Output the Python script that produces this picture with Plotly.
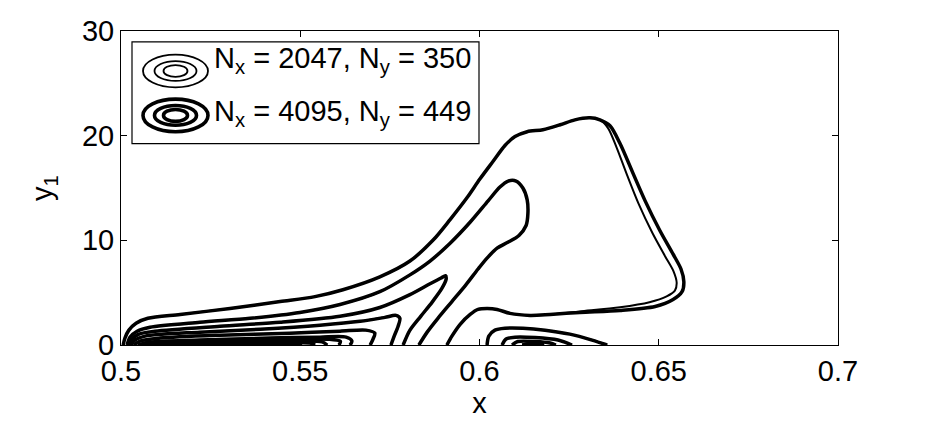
import plotly.graph_objects as go

# ---------------- data ----------------
x_ticks = [0.5, 0.55, 0.6, 0.65, 0.7]
x_tick_labels = ["0.5", "0.55", "0.6", "0.65", "0.7"]
y_ticks = [0, 10, 20, 30]
y_tick_labels = ["0", "10", "20", "30"]

series_names = ["N<sub>x</sub> = 2047, N<sub>y</sub> = 350",
                "N<sub>x</sub> = 4095, N<sub>y</sub> = 449"]

# outermost contour (big loop), fine grid (4095)
outer_fine_x = [0.5006, 0.5011, 0.5022, 0.5042, 0.5075, 0.5165, 0.5304, 0.5444, 0.5541, 0.5619,
                0.5722, 0.5806, 0.5870, 0.5918, 0.5965, 0.6001, 0.6038, 0.6071, 0.6099, 0.6133,
                0.6177, 0.6225, 0.6266, 0.6308, 0.6336, 0.6364, 0.6392, 0.6428, 0.6462, 0.6503,
                0.6540, 0.6562, 0.6570, 0.6565, 0.6540, 0.6490, 0.6392, 0.6280, 0.6197, 0.6141,
                0.6085, 0.6049, 0.6021, 0.5996, 0.5974, 0.5946, 0.5923, 0.5909]
outer_fine_y = [0.0, 0.66, 1.42, 2.08, 2.55, 2.92, 3.49, 4.15, 4.62, 5.28,
                6.51, 8.02, 10.0, 11.98, 14.06, 15.85, 17.55, 19.06, 19.91, 20.38,
                20.57, 21.04, 21.51, 21.70, 21.51, 20.94, 19.25, 16.42, 13.77, 10.94,
                8.68, 7.26, 6.04, 5.09, 4.34, 3.68, 3.30, 3.11, 2.92, 2.83,
                3.02, 3.40, 3.49, 3.40, 2.92, 1.98, 0.85, 0.0]

# outermost contour, coarse grid (2047) - differs on the right-hand side
outer_coarse_x = [0.5006, 0.5011, 0.5022, 0.5042, 0.5075, 0.5165, 0.5304, 0.5444, 0.5541, 0.5619,
                  0.5722, 0.5806, 0.5870, 0.5918, 0.5965, 0.6001, 0.6038, 0.6071, 0.6099, 0.6133,
                  0.6177, 0.6225, 0.6266, 0.6308, 0.6336, 0.6359, 0.6382, 0.6412, 0.6443, 0.6482,
                  0.6518, 0.6541, 0.6550, 0.6545, 0.6522, 0.6474, 0.6392, 0.6280, 0.6197, 0.6141,
                  0.6085, 0.6049, 0.6021, 0.5996, 0.5974, 0.5946, 0.5923, 0.5909]
outer_coarse_y = [0.0, 0.66, 1.42, 2.08, 2.55, 2.92, 3.49, 4.15, 4.62, 5.28,
                  6.51, 8.02, 10.0, 11.98, 14.06, 15.85, 17.55, 19.06, 19.91, 20.38,
                  20.57, 21.04, 21.51, 21.70, 21.51, 20.70, 18.90, 16.20, 13.55, 10.72,
                  8.46, 7.06, 5.94, 5.19, 4.64, 4.08, 3.60, 3.21, 2.92, 2.83,
                  3.02, 3.40, 3.49, 3.40, 2.92, 1.98, 0.85, 0.0]

# second contour with the "tongue"
tongue_x = [0.5017, 0.5025, 0.5045, 0.5081, 0.5220, 0.5360, 0.5499, 0.5611, 0.5722, 0.5806,
            0.5862, 0.5918, 0.5973, 0.6024, 0.6057, 0.6080, 0.6102, 0.6121, 0.6133, 0.6135,
            0.6130, 0.6110, 0.6079, 0.6049, 0.6021, 0.5996, 0.5962, 0.5923, 0.5884, 0.5854, 0.5831]
tongue_y = [0.0, 0.75, 1.32, 1.70, 2.17, 2.55, 3.11, 3.87, 5.09, 6.70,
            8.02, 9.72, 11.70, 13.77, 15.09, 15.66, 15.66, 15.00, 13.87, 12.55,
            11.42, 10.47, 9.81, 9.25, 8.30, 7.26, 5.75, 4.15, 2.55, 1.23, 0.0]

# third contour (finger)
finger_x = [0.5022, 0.5031, 0.5050, 0.5095, 0.5276, 0.5444, 0.5611, 0.5722, 0.5806, 0.5862,
            0.5893, 0.5905, 0.5907, 0.5895, 0.5868, 0.5836, 0.5806, 0.5787]
finger_y = [0.0, 0.57, 1.04, 1.32, 1.79, 2.17, 2.74, 3.58, 4.81, 5.85,
            6.40, 6.62, 6.30, 5.40, 4.10, 2.74, 1.42, 0.0]

# inner nested contours of the left cell
inner1_x = [0.5028, 0.5039, 0.5067, 0.5220, 0.5388, 0.5555, 0.5667, 0.5736, 0.5767, 0.5778, 0.5773, 0.5762, 0.5753]
inner1_y = [0.0, 0.47, 0.85, 1.23, 1.51, 1.89, 2.26, 2.64, 2.83, 2.55, 1.79, 0.85, 0.0]
inner2_x = [0.5036, 0.5053, 0.5109, 0.5276, 0.5471, 0.5611, 0.5683, 0.5708, 0.5703, 0.5695]
inner2_y = [0.0, 0.38, 0.66, 0.94, 1.13, 1.32, 1.42, 1.13, 0.57, 0.0]
inner3_x = [0.5047, 0.5081, 0.5220, 0.5416, 0.5555, 0.5628, 0.5644, 0.5639]
inner3_y = [0.0, 0.28, 0.47, 0.66, 0.75, 0.75, 0.38, 0.0]
inner4_x = [0.5056, 0.5100, 0.5250, 0.5440, 0.5580, 0.5612, 0.5608]
inner4_y = [0.0, 0.20, 0.38, 0.52, 0.56, 0.35, 0.0]
inner5_x = [0.5067, 0.5137, 0.5304, 0.5471, 0.5561, 0.5575]
inner5_y = [0.0, 0.19, 0.31, 0.36, 0.30, 0.0]
inner6_x = [0.5080, 0.5180, 0.5350, 0.5500, 0.5535, 0.5540]
inner6_y = [0.0, 0.13, 0.22, 0.23, 0.15, 0.0]
inner7_x = [0.5095, 0.5220, 0.5388, 0.5485, 0.5505]
inner7_y = [0.0, 0.09, 0.12, 0.09, 0.0]

# small island near x = 0.61
island1_x = [0.6021, 0.6026, 0.6043, 0.6071, 0.6121, 0.6183, 0.6252, 0.6314, 0.6356]
island1_y = [0.0, 0.85, 1.42, 1.60, 1.60, 1.42, 1.04, 0.47, 0.0]
island2_x = [0.6063, 0.6074, 0.6099, 0.6155, 0.6219, 0.6258]
island2_y = [0.0, 0.57, 0.75, 0.71, 0.47, 0.0]
island3_x = [0.6091, 0.6107, 0.6155, 0.6197, 0.6213]
island3_y = [0.0, 0.33, 0.33, 0.19, 0.0]
island4_x = [0.6119, 0.6141, 0.6169, 0.6180]
island4_y = [0.0, 0.14, 0.09, 0.0]

shared_curves = [(tongue_x, tongue_y), (finger_x, finger_y),
                 (inner1_x, inner1_y), (inner2_x, inner2_y), (inner3_x, inner3_y),
                 (inner4_x, inner4_y), (inner5_x, inner5_y), (inner6_x, inner6_y),
                 (inner7_x, inner7_y),
                 (island1_x, island1_y), (island2_x, island2_y),
                 (island3_x, island3_y), (island4_x, island4_y)]

coarse_curves = [(outer_coarse_x, outer_coarse_y)] + shared_curves
fine_curves = [(outer_fine_x, outer_fine_y)] + shared_curves

# ---------------- figure ----------------
FONT = "Liberation Sans, Arial, Helvetica, sans-serif"
FS = 29
fig = go.Figure()

for curves, width in [(coarse_curves, 2.0), (fine_curves, 3.5)]:
    for cx, cy in curves:
        fig.add_trace(go.Scatter(x=cx, y=cy, mode="lines",
                                 line=dict(color="black", width=width, shape="spline", smoothing=0.8),
                                 showlegend=False, hoverinfo="skip"))

W, H = 932, 421
L, R, T, B = 121, 838, 31, 349


def px(v):
    return (v - L) / (R - L)


def py(v):
    return (B - v) / (B - T)


shapes = []
# legend box
shapes.append(dict(type="rect", xref="paper", yref="paper",
                   x0=px(132), x1=px(479), y0=py(145), y1=py(42),
                   line=dict(color="black", width=1.2), fillcolor="white", layer="above"))
# legend icons: concentric ellipses
for cy_, lw in [(71.5, 1.8), (116.5, 3.6)]:
    for hw, hh in [(32.5, 16.5), (21, 10), (12, 6)]:
        shapes.append(dict(type="circle", xref="paper", yref="paper",
                           x0=px(175.5 - hw), x1=px(175.5 + hw),
                           y0=py(cy_ + hh), y1=py(cy_ - hh),
                           line=dict(color="black", width=lw), layer="above"))

annotations = []
for name, cy_ in zip(series_names, [60, 114]):
    annotations.append(dict(text=name, xref="paper", yref="paper",
                            x=px(212), y=py(cy_), xanchor="left", yanchor="middle",
                            showarrow=False, font=dict(family=FONT, size=FS, color="black")))

axis_common = dict(showline=True, linecolor="black", linewidth=1, mirror="ticks",
                   ticks="inside", ticklen=6, tickcolor="black", tickwidth=1,
                   showgrid=False, zeroline=False,
                   tickfont=dict(family=FONT, size=FS, color="black"))

fig.update_layout(
    width=W, height=H,
    margin=dict(l=L, r=W - R, t=T, b=H - B),
    paper_bgcolor="white", plot_bgcolor="white",
    showlegend=False,
    xaxis=dict(range=[0.5, 0.7], tickvals=x_ticks, ticktext=x_tick_labels,
               title=dict(text="x", font=dict(family=FONT, size=FS, color="black"), standoff=2),
               **axis_common),
    yaxis=dict(range=[0, 30], tickvals=y_ticks, ticktext=y_tick_labels,
               title=dict(text="y<sub>1</sub>", font=dict(family=FONT, size=FS, color="black"), standoff=20),
               **axis_common),
    shapes=shapes,
    annotations=annotations,
)

fig.write_html("out.html")
